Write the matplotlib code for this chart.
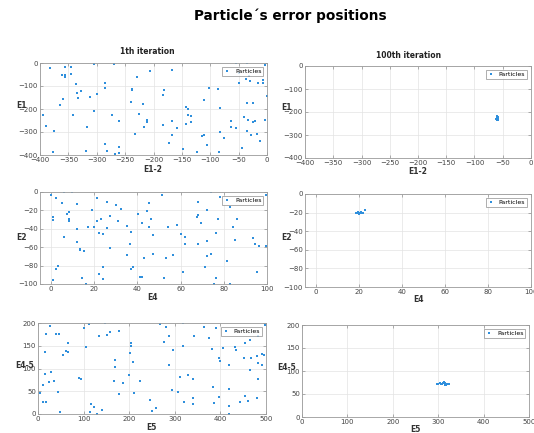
import matplotlib
matplotlib.use("Agg")
import matplotlib.pyplot as plt

W, H = 534, 433

# ---------------- data ----------------
# Panel 1 (1th iteration): E1-2 vs E1
e12_1 = [-382,-382,-356,-346,-362,-356,-356,-345,-305,-269,-336,-328,-334,-333,-359,-312,-300,
         -364,-395,-342,-305,-285,-285,-318,-389,-376,-377,-319,-285,-282,-267,-261,-261,-261,
         -273,-229,-207,-238,-238,-240,-219,-225,-211,-211,-216,-233,-168,-181,-183,-184,-168,
         -159,-168,-172,-148,-124,-142,-142,-139,-139,-134,-134,-115,-111,-106,-111,-103,-87,
         -83,-82,-76,-84,-54,-36,-50,-49,-37,-30,-32,-16,-7,-7,-4,0,-35,-25,-41,-33,-64,-24,
         -22,-4,-64,-54,-35,-29,-18,-12,-44]
e1_1 = [-23,-20,-19,-16,-53,-52,-59,-47,-4,-4,-92,-122,-132,-154,-158,-148,-136,
        -182,-224,-228,-209,-89,-107,-278,-275,-297,-385,-382,-353,-381,-397,-390,-365,-251,
        -228,-60,-35,-117,-111,-170,-177,-220,-246,-258,-280,-308,-31,-117,-139,-270,-253,
        -283,-315,-349,-375,-385,-264,-190,-198,-224,-231,-256,-316,-312,-357,-163,-110,-111,
        -195,-300,-328,-388,-1,0,-45,-86,-70,-78,-57,-89,-72,-89,-7,-145,-173,-176,-233,-248,-253,
        -258,-252,-246,-278,-281,-297,-313,-308,-338,-368]

# Panel 2 (100th iteration): E1-2 vs E1
e12_100 = [-60,-59,-61,-60,-58,-61,-59,-60,-62,-60,-59,-61,-60,-58,-60,-61,-59]
e1_100 = [-222,-225,-228,-230,-232,-226,-234,-236,-229,-219,-228,-231,-224,-227,-233,-221,-220]

# Panel 3 (1th iteration): E4 vs E2
e4_1 = [0.3,1.2,1.2,2.3,5.3,6.3,10,7.3,8.3,8.3,8.3,6.3,12.2,12.2,12.2,13.3,13.3,15.3,14.3,16.4,
        2.2,3.4,1.2,17.3,19.2,21.2,21.2,20.2,23,22.3,24.2,22.3,24.2,24.2,26.2,27.3,26.2,27.3,
        30.3,32.3,31.3,35.2,36.4,37.3,35.4,37.3,38.2,40.2,42.3,44.3,45.3,45.3,46.3,47.4,47.4,
        43.3,41.3,42.3,51.3,52.2,53.3,54.3,56.3,58.4,60.3,62.3,62.3,61.2,67.4,68.3,68.3,69.3,
        68.3,72.3,72.3,72.3,71.4,74,74,77.3,76.4,76.4,75.4,78.4,83,84.4,81.5,83,85.3,86.3,
        93.4,94.4,96.4,95.3,99.4,99.4]
e2_1 = [-3,-27,-30,-7,-12,0,0,-24,-22,-29,-32,-49,-13,-40,-54,-62,-63,-64,-94,-100,
        -84,-80,-96,-38,-20,-6,-32,-38,-29,-45,-46,-89,-82,-95,-11,-26,-39,-61,
        -14,-18,-32,-37,-57,-43,-68,-84,-82,-24,-34,-21,-12,-38,-29,-47,-67,
        -72,-92,-92,-3,-93,-72,-38,-69,-36,-46,-49,-56,-87,-27,-11,-25,-34,
        -57,-20,-53,-70,-82,0,-67,-29,-45,-94,-100,-5,-16,-38,-75,-100,-52,-29,
        -50,-57,-59,-87,-3,-59]

# Panel 4 (100th iteration): E4 vs E2
e4_100 = [18.6,19.0,19.4,19.8,20.2,20.6,21.0,21.4,21.8,19.5,20.3,21.1,20.0,20.8,22.8]
e2_100 = [-20.3,-20.0,-20.6,-19.7,-20.4,-20.1,-19.8,-20.5,-20.2,-19.6,-20.8,-19.5,-21.0,-20.9,-17.0]

# Panel 5 (1th iteration): E5 vs E4-5
e5_1 = [5,10,12,16,18,18,16,27,25,29,34,39,45,43,49,54,62,65,65,89,95,101,105,112,116,115,123,
        129,133,133,141,147,151,157,167,169,168,178,178,186,200,203,203,202,209,210,224,245,249,
        259,267,277,280,288,288,295,293,306,312,319,319,321,328,339,339,340,343,365,374,382,383,
        386,390,396,399,397,405,419,419,419,419,432,435,442,452,455,455,460,465,466,468,480,481,
        483,483,482,491,491,496,498]
e45_1 = [47,26,63,87,26,175,137,193,71,92,73,176,176,48,5,130,139,155,137,80,76,188,148,197,23,5,16,
         1,172,171,9,200,174,181,73,118,103,182,43,68,85,155,150,135,115,46,73,30,7,
         14,198,159,191,172,108,140,53,49,82,200,150,26,86,35,23,77,172,192,168,143,60,
         25,188,123,117,37,145,108,55,17,0,148,141,26,124,156,39,28,163,96,124,127,36,
         172,112,76,132,107,129,195]

# Panel 6 (100th iteration): E5 vs E4-5
e5_100 = [297,300,303,306,309,312,315,318,321,324,313,316,314,317,311,319]
e45_100 = [72.5,72.0,73.0,72.5,71.5,73.0,72.0,72.5,72.0,72.5,75.5,74.5,69.5,70.0,74.0,71.0]

panels = [
    dict(x=e12_1, y=e1_1, box=(40, 63, 267, 155), xlim=(-400, 0), ylim=(-400, 0),
         xt=range(-400, 1, 50), yt=range(-400, 1, 100), xl="E1-2", yl="E1",
         xlpos=(153, 170), ylpos=(22, 106), title="1th iteration", tpos=(147, 52)),
    dict(x=e12_100, y=e1_100, box=(305, 66, 531, 158), xlim=(-400, 0), ylim=(-400, 0),
         xt=range(-400, 1, 50), yt=range(-400, 1, 100), xl="E1-2", yl="E1",
         xlpos=(418, 172), ylpos=(287, 107), title="100th iteration", tpos=(409, 56)),
    dict(x=e4_1, y=e2_1, box=(40, 192, 267, 284), xlim=(-5, 100), ylim=(-100, 0),
         xt=range(0, 101, 20), yt=range(-100, 1, 20), xl="E4", yl="E2",
         xlpos=(153, 298), ylpos=(22, 238), title=None, tpos=None),
    dict(x=e4_100, y=e2_100, box=(305, 194, 531, 287), xlim=(-5, 100), ylim=(-100, 0),
         xt=range(0, 101, 20), yt=range(-100, 1, 20), xl="E4", yl="E2",
         xlpos=(418, 300), ylpos=(287, 237), title=None, tpos=None),
    dict(x=e5_1, y=e45_1, box=(38, 323, 266, 414), xlim=(0, 500), ylim=(0, 200),
         xt=range(0, 501, 100), yt=range(0, 201, 50), xl="E5", yl="E4-5",
         xlpos=(151, 428), ylpos=(25, 365), title=None, tpos=None),
    dict(x=e5_100, y=e45_100, box=(302, 325, 529, 417), xlim=(0, 500), ylim=(0, 200),
         xt=range(0, 501, 100), yt=range(0, 201, 50), xl="E5", yl="E4-5",
         xlpos=(415, 430), ylpos=(287, 368), title=None, tpos=None),
]

fig = plt.figure(figsize=(W / 100, H / 100), dpi=100)
fig.patch.set_facecolor("white")

def fx(px):
    return px / W

def fy(py):
    return 1 - py / H

blue = "#2f8fdc"
for p in panels:
    x0, y0, x1, y1 = p["box"]
    ax = fig.add_axes([fx(x0), fy(y1), (x1 - x0) / W, (y1 - y0) / H])
    ax.plot(p["x"], p["y"], linestyle="none", marker="s", markersize=1.9,
            color=blue, markeredgewidth=0, label="Particles")
    ax.set_xlim(*p["xlim"])
    ax.set_ylim(*p["ylim"])
    ax.set_xticks(list(p["xt"]))
    ax.set_yticks(list(p["yt"]))
    ax.grid(True, color="#e3e3e3", linewidth=0.5)
    ax.set_axisbelow(True)
    ax.tick_params(direction="in", length=2, width=0.4, labelsize=5,
                   labelcolor="#444444", color="#777777", pad=1.5,
                   top=True, right=True)
    for s in ax.spines.values():
        s.set_color("#9a9a9a")
        s.set_linewidth(0.6)
    leg = ax.legend(loc="upper right", fontsize=4.5, frameon=True, fancybox=False,
                    borderpad=0.3, handlelength=1.2, handletextpad=0.6,
                    borderaxespad=0.6, markerscale=1.0)
    leg.get_frame().set_edgecolor("#8a8a8a")
    leg.get_frame().set_linewidth(0.6)
    fig.text(fx(p["xlpos"][0]), fy(p["xlpos"][1]), p["xl"], ha="center", va="center",
             fontsize=5.5, fontweight="bold", color="#333333")
    fig.text(fx(p["ylpos"][0]), fy(p["ylpos"][1]), p["yl"], ha="center", va="center",
             fontsize=5.5, fontweight="bold", color="#333333")
    if p["title"]:
        fig.text(fx(p["tpos"][0]), fy(p["tpos"][1]), p["title"], ha="center", va="center",
                 fontsize=5.5, fontweight="bold", color="#222222")

fig.text(fx(290), fy(16), "Particle\u00b4s error positions", ha="center", va="center",
         fontsize=9.8, fontweight="bold", color="black")

fig.savefig("out.png", dpi=100, facecolor="white")
